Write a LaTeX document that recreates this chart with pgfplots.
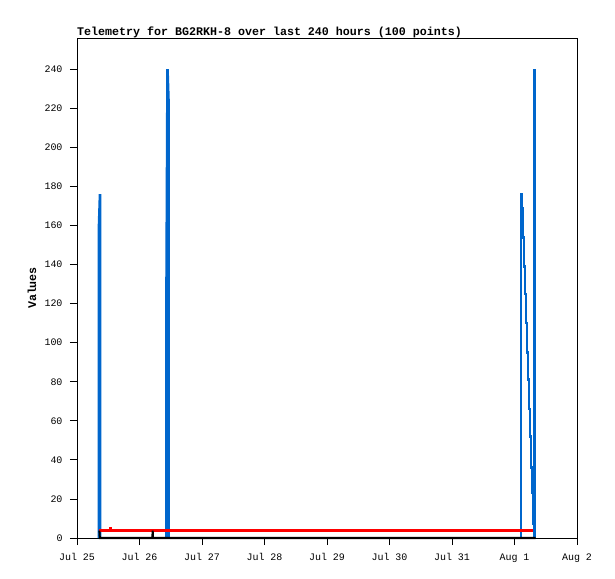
\documentclass[border=0pt]{standalone}
\usepackage{pgfplots}
\pgfplotsset{compat=1.18}
\usepackage{fontspec}
\setmainfont{Liberation Mono}
\setmonofont{Liberation Mono}
\definecolor{tblue}{RGB}{0,102,204}
\begin{document}
\begin{tikzpicture}
\path[use as bounding box] (-77bp,-41bp) rectangle (538bp,538bp);
\begin{axis}[
  at={(0,0)}, anchor=south west, scale only axis, width=500bp, height=500bp,
  xmin=0, xmax=8, ymin=0, ymax=256, clip=false,
  axis line style={line width=0.8bp},
  tick align=outside, major tick length=7bp,
  every tick/.style={black, line width=0.8bp},
  xtick pos=bottom, ytick pos=left,
  xtick={0,...,8},
  xticklabels={Jul 25,Jul 26,Jul 27,Jul 28,Jul 29,Jul 30,Jul 31,Aug 1,Aug 2},
  ytick={0,20,...,240},
  /pgf/number format/assume math mode=true,
  ticklabel style={font=\fontsize{10}{12}\selectfont},
  xticklabel style={yshift=-5bp},
  yticklabel style={xshift=-4bp},
  title={Telemetry for BG2RKH-8 over last 240 hours (100 points)},
  title style={at={(0,1)}, anchor=base west, yshift=-3.5bp, inner sep=0pt, font=\bfseries\fontsize{11.7}{14}\selectfont},
  ylabel={Values},
  ylabel style={at={(axis description cs:-0.09,0.5)}, anchor=center, font=\bfseries\fontsize{11.7}{14}\selectfont},
]
\addplot[tblue, line width=2.6bp] coordinates {(0.352,0)(0.352,160)(0.368,176)(0.368,0)};
\addplot[tblue, line width=2.6bp] coordinates {(1.432,0)(1.432,128)(1.448,240)(1.464,224)(1.464,0)};
\addplot[tblue, line width=2.6bp, const plot mark left] coordinates {(7.104,0)(7.104,176)(7.122,169)(7.138,154)(7.154,139)(7.170,125)(7.186,110)(7.202,95)(7.218,81)(7.234,66)(7.250,52)(7.266,36)(7.282,23)(7.298,7.5)(7.320,240)(7.320,0)};
\addplot[red, line width=2.4bp] coordinates {(0.356,3.8)(0.537,3.8)(0.537,4.8)(0.542,4.8)(0.542,3.8)(7.291,3.8)};
\addplot[black, line width=2bp] coordinates {(0.358,3.8)(0.366,0)(1.205,0)(1.211,3.8)(1.217,0)(7.339,0)};
\end{axis}
\end{tikzpicture}
\end{document}
